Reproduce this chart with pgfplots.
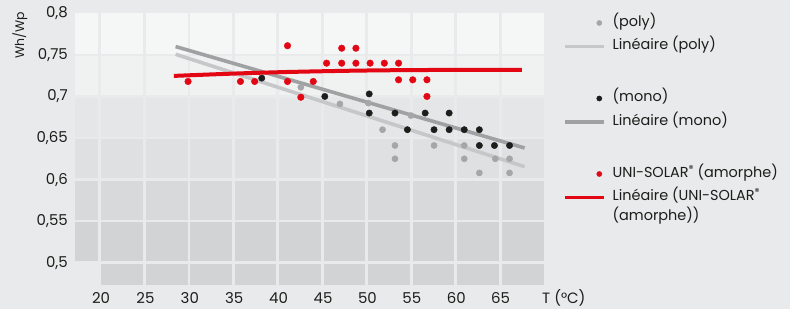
\documentclass[border=0pt]{standalone}
\usepackage{fontspec}
\setmainfont{Poppins}
\usepackage{pgfplots}
\pgfplotsset{compat=1.18}
\definecolor{bg}{HTML}{E9EAEB}
\definecolor{bA}{HTML}{F5F6F6}
\definecolor{bB}{HTML}{F0F1F1}
\definecolor{bC}{HTML}{E5E6E7}
\definecolor{bD}{HTML}{DFE0E1}
\definecolor{bE}{HTML}{D8D9DA}
\definecolor{bF}{HTML}{D2D3D4}
\definecolor{txt}{HTML}{1D1D1B}
\definecolor{reddot}{HTML}{E30613}
\definecolor{polydot}{HTML}{A5A6A8}
\definecolor{polyline}{HTML}{C6C7C9}
\definecolor{monodot}{HTML}{1D1D1B}
\definecolor{monoline}{HTML}{A0A1A3}
\newcommand{\reg}{\raisebox{0.38em}{\fontsize{10}{10}\selectfont ®}}
\begin{document}
\begin{tikzpicture}
\path[use as bounding box, fill=bg] (0,0) rectangle (790bp,309bp);
\begin{axis}[
  at={(75bp,24bp)}, anchor=south west,
  scale only axis, width=469bp, height=271.7bp,
  xmin=17.07, xmax=69.88, ymin=0.4732, ymax=0.8,
  clip=false,
  axis line style={draw=none},
  major tick length=0pt,
  tick style={draw=none},
  xtick={20,25,30,35,40,45,50,55,60,65},
  ytick={0.5,0.55,0.6,0.65,0.7,0.75,0.8},
  yticklabels={{0,5},{0,55},{0,6},{0,65},{0,7},{0,75},{0,8}},
  /pgf/number format/assume math mode=true,
  ticklabel style={font=\fontsize{15}{18}\selectfont, text=txt},
  xticklabel style={anchor=center, yshift=-13bp},
  yticklabel style={anchor=east, xshift=-7bp, inner sep=0pt},
  xlabel={T (°C)},
  xlabel style={at={(axis description cs:1,0)}, anchor=west, xshift=-2bp, yshift=-13bp, inner sep=0pt, font=\fontsize{15}{18}\selectfont, text=txt},
  ylabel={Wh/Wp},
  ylabel style={at={(axis description cs:0,1)}, anchor=center, xshift=-22bp, yshift=55bp, inner sep=0pt, font=\fontsize{12.5}{15}\selectfont, text=txt},
  legend cell align=left,
  legend style={at={(axis description cs:1.0405,0.9919)}, anchor=north west,
    draw=none, fill=none, inner sep=0pt, outer sep=0pt,
    row sep=8.5bp, column sep=7bp,
    font=\fontsize{14.5}{17}\selectfont, text=txt,
    nodes={inner sep=0pt, text height=11bp, text depth=4bp}},
]
% background tiles
\fill[bA] (axis cs:17.07,0.75) rectangle (axis cs:69.88,0.8);
\fill[bB] (axis cs:17.07,0.70) rectangle (axis cs:69.88,0.75);
\fill[bC] (axis cs:17.07,0.65) rectangle (axis cs:69.88,0.70);
\fill[bD] (axis cs:17.07,0.60) rectangle (axis cs:69.88,0.65);
\fill[bE] (axis cs:17.07,0.55) rectangle (axis cs:69.88,0.60);
\fill[bF] (axis cs:17.07,0.4732) rectangle (axis cs:69.88,0.55);
\fill[bg] (axis cs:17.07,0.4732) rectangle (axis cs:19.81,0.5);
\pgfplotsinvokeforeach{19.81,24.9,29.9,34.9,39.9,44.9,49.9,54.95,59.95,64.95}{
  \draw[bg, line width=2.7bp] (axis cs:#1,0.4732) -- (axis cs:#1,0.8);
}
\pgfplotsinvokeforeach{0.5,0.55,0.6,0.65,0.7,0.75}{
  \draw[bg, line width=2.7bp] (axis cs:17.07,#1) -- (axis cs:69.88,#1);
}
% trend lines
\addplot[polyline, line width=3.6bp, forget plot] coordinates {(28.4,0.7507) (67.7,0.6155)};
\addplot[monoline, line width=3.6bp, forget plot] coordinates {(28.4,0.760) (67.7,0.638)};
\addplot[reddot, line width=4bp, smooth, forget plot] coordinates {(28.2,0.7247) (35,0.7275) (41,0.7294) (48,0.7309) (53.7,0.7316) (60,0.7319) (67.4,0.7318)};
% points
\addplot[only marks, mark=*, mark size=3.1bp, color=polydot, forget plot] coordinates {
(42.5,0.711) (46.9,0.691) (50.1,0.692) (51.7,0.660) (53.1,0.641) (53.1,0.625) (54.9,0.677)
(57.5,0.641) (60.9,0.641) (60.9,0.625) (62.6,0.608) (64.4,0.625) (66.0,0.625) (66.0,0.608)};
\addplot[only marks, mark=*, mark size=3.2bp, color=monodot, forget plot] coordinates {
(38.1,0.722) (45.2,0.700) (50.2,0.703) (50.2,0.680) (53.1,0.680) (54.5,0.660) (56.5,0.680)
(57.5,0.660) (59.2,0.680) (59.2,0.660) (60.9,0.660) (62.6,0.660) (62.6,0.641) (64.3,0.641) (66.0,0.641)};
\addplot[only marks, mark=*, mark size=3.3bp, color=reddot, forget plot] coordinates {
(29.8,0.718) (35.7,0.718) (37.3,0.718) (41.0,0.761) (41.0,0.718) (42.5,0.699) (43.9,0.718)
(45.4,0.740) (47.1,0.758) (47.1,0.740) (48.7,0.758) (48.7,0.740) (50.3,0.740) (51.9,0.740)
(53.5,0.740) (53.5,0.720) (55.1,0.720) (56.7,0.720) (56.7,0.700)};
% legend
\addlegendimage{legend image code/.code={\fill[polydot] (34.5bp,0) circle (2.6bp);}}
\addlegendentry{(poly)}
\addlegendimage{legend image code/.code={\draw[polyline, line width=3.6bp] (0,0) -- (39bp,0);}}
\addlegendentry{Linéaire (poly)}
\addlegendimage{empty legend}
\addlegendentry[text height=20bp, text depth=0bp]{}
\addlegendimage{legend image code/.code={\fill[monodot] (34.5bp,0) circle (2.6bp);}}
\addlegendentry{(mono)}
\addlegendimage{legend image code/.code={\draw[monoline, line width=3.6bp] (0,0) -- (39bp,0);}}
\addlegendentry{Linéaire (mono)}
\addlegendimage{empty legend}
\addlegendentry[text height=20bp, text depth=0bp]{}
\addlegendimage{legend image code/.code={\fill[reddot] (34.5bp,0) circle (2.6bp);}}
\addlegendentry{UNI-SOLAR\reg{} (amorphe)}
\addlegendimage{legend image code/.code={\draw[reddot, line width=3.6bp] (0,0) -- (39bp,0);}}
\addlegendentry{Linéaire (UNI-SOLAR\reg}
\addlegendimage{empty legend}
\addlegendentry[text height=7bp, text depth=4bp]{(amorphe))}
\end{axis}
\end{tikzpicture}
\end{document}
